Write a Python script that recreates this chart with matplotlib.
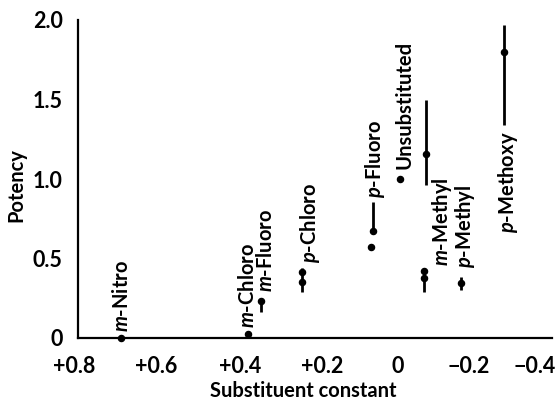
import matplotlib
matplotlib.use("Agg")
import matplotlib.pyplot as plt
from matplotlib.transforms import ScaledTranslation

# Hammett substituent constant vs potency
compounds = ["m-Nitro", "m-Chloro", "m-Fluoro", "p-Chloro", "p-Fluoro",
             "Unsubstituted", "m-Methyl", "p-Methyl", "p-Methoxy"]

# single potency estimates (some compounds have two)
point_sigma = [0.70, 0.37, 0.336, 0.229, 0.229, 0.045, 0.049, -0.025,
               -0.092, -0.087, -0.087, -0.184, -0.295]
point_potency = [0.0, 0.023, 0.23, 0.414, 0.354, 0.675, 0.57, 1.0,
                 1.16, 0.42, 0.375, 0.344, 1.80]

# ranges drawn as vertical bars
bar_sigma = [0.336, 0.229, 0.045, -0.092, -0.087, -0.184, -0.295]
bar_low = [0.165, 0.29, 0.675, 0.96, 0.29, 0.30, 1.34]
bar_high = [0.23, 0.44, 0.855, 1.50, 0.42, 0.385, 1.97]

x_ticks = [0.8, 0.6, 0.4, 0.2, 0.0, -0.2, -0.4]
x_ticklabels = ["+0.8", "+0.6", "+0.4", "+0.2", "0", "\u22120.2", "\u22120.4"]
y_ticks = [0, 0.5, 1.0, 1.5, 2.0]
y_ticklabels = ["0", "0.5", "1.0", "1.5", "2.0"]

# where each name sits (bottom of the rotated text)
label_x = [0.697, 0.370, 0.323, 0.209, 0.040, -0.036, -0.134, -0.193, -0.306]
label_y = [0.04, 0.06, 0.29, 0.47, 0.88, 1.06, 0.45, 0.44, 0.66]

# the printed tick labels are not quite evenly spaced (pixels)
tick_nudge = [-8, -3, 4, 9, 7, 1, -10]

plt.rcParams["font.family"] = ["Lato", "DejaVu Sans"]
plt.rcParams["font.weight"] = "bold"
plt.rcParams["mathtext.fontset"] = "custom"
plt.rcParams["mathtext.it"] = "Lato:italic:bold"
plt.rcParams["mathtext.rm"] = "Lato:bold"


def pretty(name):
    if name[:2] in ("m-", "p-"):
        return r"$\mathit{" + name[0] + "}$" + name[1:]
    return name


fig = plt.figure(figsize=(5.57, 4.0), dpi=100)
ax = fig.add_axes([78 / 557, 62 / 400, 474 / 557, 318 / 400])

ax.vlines(bar_sigma, bar_low, bar_high, color="black", linewidth=2.0,
          clip_on=False)
ax.plot(point_sigma, point_potency, "o", color="black", markersize=4.4,
        clip_on=False, zorder=3)

for name, lx, ly in zip(compounds, label_x, label_y):
    ax.text(lx, ly, pretty(name), rotation=90, ha="center", va="bottom",
            fontsize=14.5, fontweight="bold")

ax.set_xlim(0.811, -0.42)
ax.set_ylim(0, 2.0)

for side in ("top", "right"):
    ax.spines[side].set_visible(False)
for side in ("left", "bottom"):
    ax.spines[side].set_linewidth(1.6)

ax.set_xticks(x_ticks)
ax.set_xticklabels(x_ticklabels, fontsize=15.5)
ax.set_yticks(y_ticks)
ax.set_yticklabels(y_ticklabels, fontsize=15.5)
ax.tick_params(axis="both", length=0)
ax.tick_params(axis="x", pad=13)
ax.tick_params(axis="y", pad=11)

for lbl, dx in zip(ax.get_xticklabels(), tick_nudge):
    lbl.set_transform(lbl.get_transform()
                      + ScaledTranslation(dx / 100, 0, fig.dpi_scale_trans))

ax.set_xlabel("Substituent constant", fontsize=14.5, fontweight="bold",
              va="center")
ax.xaxis.set_label_coords(0.475, -0.166)
ax.set_ylabel("Potency", fontsize=14.5, fontweight="bold", va="center")
ax.yaxis.set_label_coords(-0.129, 0.48)

fig.savefig("out.png", dpi=100, facecolor="white")
plt.close(fig)
